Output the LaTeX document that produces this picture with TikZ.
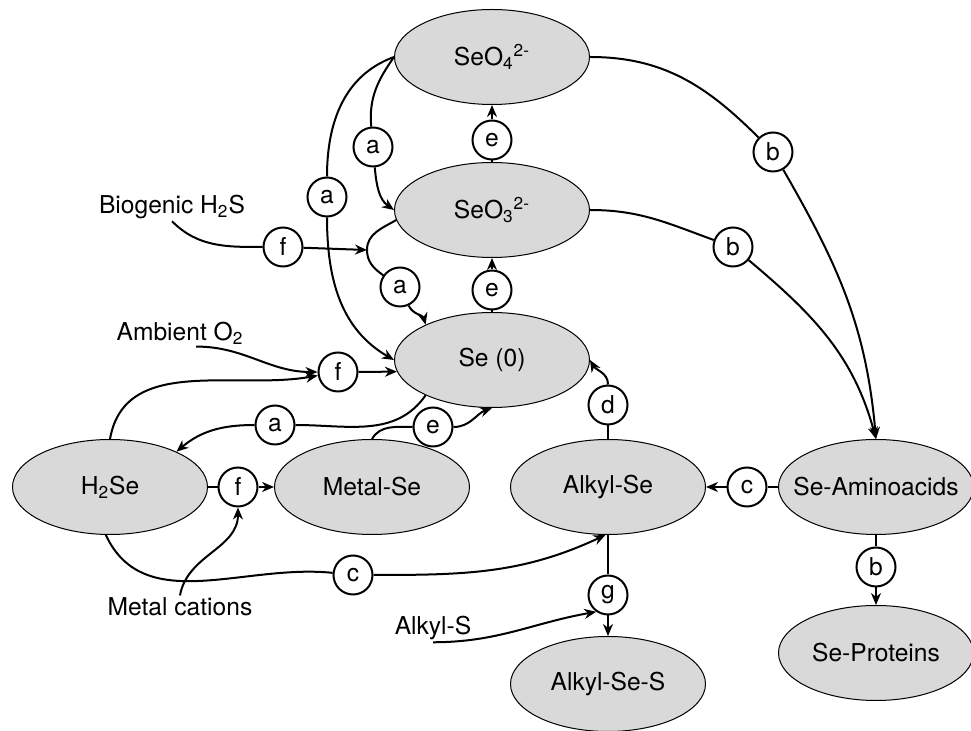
\documentclass[tikz,border=0pt]{standalone}
\usepackage{fontspec}
\setmainfont{TeX Gyre Heros}
\usepackage{tikz}
\usetikzlibrary{shapes.geometric,arrows.meta,calc,positioning}
\definecolor{cellgray}{gray}{0.85}
\newcommand{\cname}[1]{\makebox[0pt]{#1}}

\begin{document}
\begin{tikzpicture}[x=0.5pt,y=0.5pt,
    font=\fontsize{12.3}{14}\selectfont,
    cell/.style={ellipse,draw,fill=cellgray,line width=0.5pt,minimum width=97.5pt,minimum height=47.5pt,inner sep=0pt},
    tag/.style={circle,draw,fill=white,line width=1pt,minimum size=19.5pt,inner sep=0pt},
    src/.style={inner sep=1pt},
    flow/.style={line width=1pt},
    go/.style={flow,-{Stealth[length=6pt,width=5pt]}}]
      \useasboundingbox (0,0) rectangle (971,-731);
      % Species
      \node[cell] (seoiv) at (492,-57) {\cname{SeO\textsubscript{4}\textsuperscript{2-}}};
      \node[cell] (seoiii) at (492,-210) {\cname{SeO\textsubscript{3}\textsuperscript{2-}}};
      \node[cell] (sezero) at (492,-360) {\cname{Se (0)}};
      \node[cell] (hse) at (110,-487) {\cname{H\textsubscript{2}Se}};
      \node[cell] (metal) at (372,-487) {\cname{Metal-Se}};
      \node[cell] (alkyl) at (608,-487) {\cname{Alkyl-Se}};
      \node[cell] (amino) at (876,-487) {\cname{Se-Aminoacids}};
      \node[cell] (proteins) at (876,-653) {\cname{Se-Proteins}};
      \node[cell] (alkylss) at (608,-684) {\cname{Alkyl-Se-S}};
      % Sources
      \node[src] (biogenic) at (172,-207) {Biogenic H\textsubscript{2}S};
      \node[src] (ambient) at (180,-333) {Ambient O\textsubscript{2}};
      \node[src] (cations) at (180,-607) {Metal cations};
      \node[src] (alkylsrc) at (433,-628) {Alkyl-S};
      % Reaction tags
      \node[tag] (eA) at (492,-140) {e};
      \node[tag] (eB) at (492,-290) {e};
      \node[tag] (aA) at (373,-147) {a};
      \node[tag] (aB) at (327,-197) {a};
      \node[tag] (aC) at (400,-287) {a};
      \node[tag] (fA) at (283,-247) {f};
      \node[tag] (fB) at (338,-372) {f};
      \node[tag] (aD) at (275,-425) {a};
      \node[tag] (eC) at (433,-427) {e};
      \node[tag] (dA) at (608,-405) {d};
      \node[tag] (fC) at (238,-487) {f};
      \node[tag] (cA) at (353,-575) {c};
      \node[tag] (cB) at (747,-487) {c};
      \node[tag] (gA) at (608,-595) {g};
      \node[tag] (bA) at (773,-152) {b};
      \node[tag] (bB) at (733,-247) {b};
      \node[tag] (bC) at (876,-567) {b};
      \coordinate (branch) at (367,-250);
      % Oxidation chain
      \draw[flow] (seoiii) -- (eA);
      \draw[go] (eA) -- (seoiv);
      \draw[flow] (sezero) -- (eB);
      \draw[go] (eB) -- (seoiii);
      % Reductions
      \draw[flow] (seoiv.west) to[out=235,in=95] (aA);
      \draw[go] (aA) to[out=-85,in=145] (seoiii.west);
      \draw[flow] (seoiv.west) to[out=200,in=90] (aB);
      \draw[go] (aB) to[out=-90,in=150] (sezero.west);
      \draw[flow] (seoiii.186) to[out=210,in=90] (branch) to[out=-90,in=145] (aC);
      \draw[go] (aC) to[out=-65,in=105] (sezero.152);
      \draw[flow] (sezero.208) to[out=235,in=0] (aD);
      \draw[go] (aD) to[out=180,in=40] (hse.28);
      % Sulfide and oxygen
      \draw[flow] (biogenic.south) to[out=-45,in=180] (fA);
      \draw[go] (fA) -- (branch);
      \draw[go] (ambient.-40) to[out=0,in=180] (fB);
      \draw[go] (hse.north) to[out=80,in=190] (fB);
      \draw[go] (fB) -- (sezero.187);
      % Metal-Se
      \draw[flow] (hse) -- (fC);
      \draw[go] (fC) -- (metal);
      \draw[go] (cations.north) to[out=80,in=-90] (fC);
      \draw[flow] (metal.north) to[out=60,in=180] (eC);
      \draw[go] (eC) to[out=0,in=200] (sezero.south);
      % Alkyl-Se
      \draw[flow] (alkyl) -- (dA);
      \draw[go] (dA) to[out=90,in=-60] (sezero.east);
      \draw[flow] (hse.-95) to[out=-65,in=174] (cA);
      \draw[go] (cA) to[out=0,in=205] (alkyl.-93);
      \draw[flow] (amino) -- (cB);
      \draw[go] (cB) -- (alkyl);
      \draw[flow] (alkyl) -- (gA);
      \draw[go] (gA) -- (alkylss);
      \draw[go] (alkylsrc.south) to[out=0,in=190] (gA.235);
      % Uptake
      \draw[flow] (seoiv.east) to[out=0,in=135] (bA);
      \draw[go] (bA) to[out=-60,in=95] (amino.north);
      \draw[flow] (seoiii.east) to[out=0,in=160] (bB);
      \draw[go] (bB) to[out=-40,in=105] (amino.north);
      \draw[flow] (amino) -- (bC);
      \draw[go] (bC) -- (proteins);
\end{tikzpicture}
\end{document}
